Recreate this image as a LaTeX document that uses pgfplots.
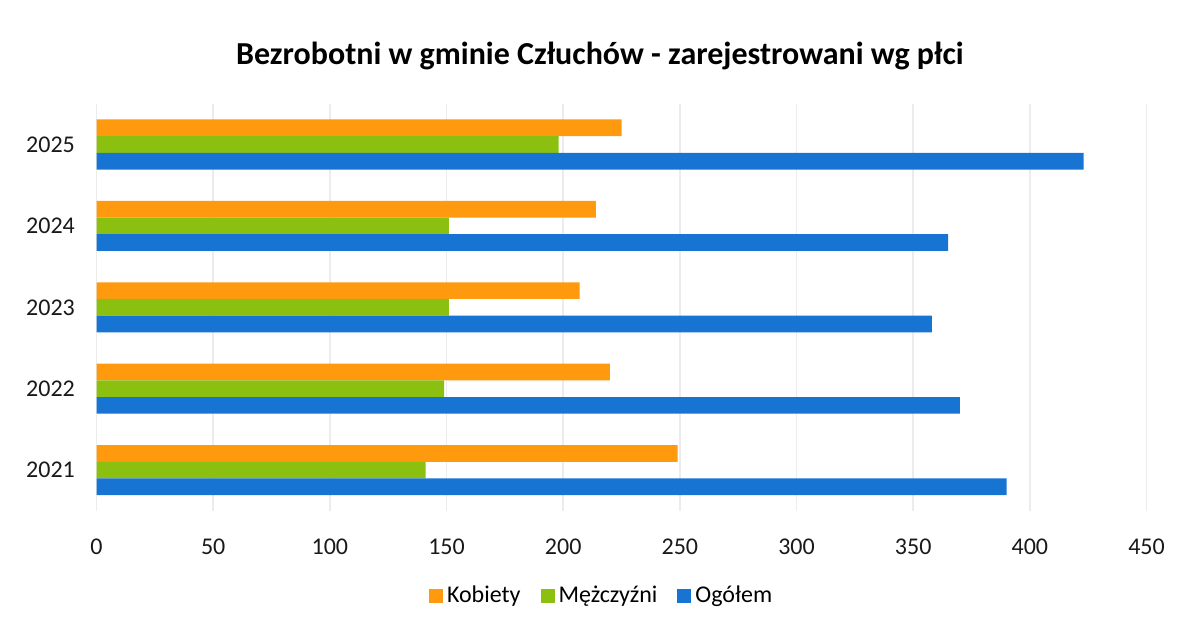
\documentclass[border=0pt]{standalone}
\usepackage{pgfplots}
\pgfplotsset{compat=1.18}
\usepackage{fontspec}
\setmainfont{Carlito}

\definecolor{kob}{HTML}{FF9A0F}
\definecolor{mez}{HTML}{8BC011}
\definecolor{ogo}{HTML}{1874D2}
\definecolor{gridc}{HTML}{ECECEC}

\begin{document}
\begin{tikzpicture}
\useasboundingbox (0,0) rectangle (589.5pt,313.5pt);
\begin{axis}[
    at={(48.25pt,58.1pt)}, anchor=south west,
    scale only axis,
    width=525pt, height=203.5pt,
    xmin=0, xmax=450,
    ymin=2020.5, ymax=2025.5,
    xtick={0,50,...,450},
    ytick=data,
    /pgf/number format/assume math mode=true,
    /pgf/number format/1000 sep={},
    ticklabel style={font=\fontsize{12}{14}\selectfont, text=black!90},
    x tick label style={yshift=-10.5pt},
    y tick label style={xshift=-3pt},
    axis line style={draw=none},
    tick style={draw=none},
    xmajorgrids,
    grid style={gridc, line width=0.8pt},
    title={\bfseries Bezrobotni w gminie Człuchów - zarejestrowani wg płci},
    title style={at={(0.4795,1.089)}, anchor=center, font=\fontsize{16}{18}\selectfont},
    xbar, bar width=0.205,
    legend columns=3,
    legend style={at={(0.482,-0.209)}, anchor=center, draw=none,
      font=\fontsize{12}{14}\selectfont,
      /tikz/every even column/.append style={column sep=8pt}},
    legend image code/.code={\fill[#1] (0pt,-3.5pt) rectangle (7pt,3.5pt);},
]
\addplot[fill=kob, draw=none, bar shift=0.205] coordinates {
(249,2021) (220,2022) (207,2023) (214,2024) (225,2025)};
\addlegendentry{Kobiety}
\addplot[fill=mez, draw=none, bar shift=0] coordinates {
(141,2021) (149,2022) (151,2023) (151,2024) (198,2025)};
\addlegendentry{Mężczyźni}
\addplot[fill=ogo, draw=none, bar shift=-0.205] coordinates {
(390,2021) (370,2022) (358,2023) (365,2024) (423,2025)};
\addlegendentry{Ogółem}
\end{axis}
\end{tikzpicture}
\end{document}
